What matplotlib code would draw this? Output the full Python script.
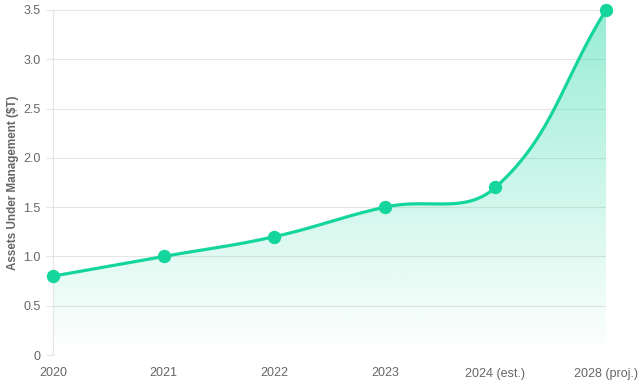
import numpy as np
import matplotlib
matplotlib.use("Agg")
import matplotlib.pyplot as plt
from matplotlib.colors import to_rgb

categories = ["2020", "2021", "2022", "2023", "2024 (est.)", "2028 (proj.)"]
values = [0.8, 1.0, 1.2, 1.5, 1.7, 3.5]
y_ticks = [0, 0.5, 1.0, 1.5, 2.0, 2.5, 3.0, 3.5]
y_tick_labels = ["0", "0.5", "1.0", "1.5", "2.0", "2.5", "3.0", "3.5"]
y_label = "Assets Under Management ($T)"

LINE = "#14d69c"
GRID = "#e5e5e5"
TEXT = "#666666"

plt.rcParams["font.family"] = ["Liberation Sans", "DejaVu Sans"]

fig = plt.figure(figsize=(6.4, 3.84), dpi=100)
ax = fig.add_axes([53/640, 1-355/384, (606-53)/640, (355-10)/384])
x = np.arange(len(categories))
ax.set_xlim(0, len(categories)-1)
ax.set_ylim(0, 3.5)

# Chart.js-style spline (tension 0.4) computed in pixel space
fig.canvas.draw()
pts = ax.transData.transform(np.column_stack([x, values]))
t = 0.4
n = len(pts)
cp_prev = []
cp_next = []
for i in range(n):
    cur = pts[i]
    prev = pts[i-1] if i > 0 else cur
    nxt = pts[i+1] if i < n-1 else cur
    d01 = np.hypot(*(cur-prev))
    d12 = np.hypot(*(nxt-cur))
    tot = d01 + d12
    s01 = d01/tot if tot else 0
    s12 = d12/tot if tot else 0
    fa = t*s01
    fb = t*s12
    cp_prev.append(cur - fa*(nxt-prev))
    cp_next.append(cur + fb*(nxt-prev))
bbox = ax.bbox
curve = []
for i in range(n-1):
    p0 = pts[i]; p3 = pts[i+1]
    p1 = cp_next[i].copy(); p2 = cp_prev[i+1].copy()
    for p in (p1, p2):
        p[0] = min(max(p[0], bbox.x0), bbox.x1)
        p[1] = min(max(p[1], bbox.y0), bbox.y1)
    s = np.linspace(0, 1, 60)[:, None]
    seg = ((1-s)**3)*p0 + 3*((1-s)**2)*s*p1 + 3*(1-s)*(s**2)*p2 + (s**3)*p3
    if i > 0:
        seg = seg[1:]
    curve.append(seg)
curve = np.vstack(curve)
curve_data = ax.transData.inverted().transform(curve)
cx, cy = curve_data[:, 0], curve_data[:, 1]

# gradient fill
r, g, b = to_rgb(LINE)
grad = np.zeros((256, 1, 4))
grad[:, 0, 0] = r; grad[:, 0, 1] = g; grad[:, 0, 2] = b
grad[:, 0, 3] = np.linspace(0.0, 0.44, 256)
im = ax.imshow(grad, aspect="auto", extent=[0, len(categories)-1, 0, 3.5],
               origin="lower", zorder=1)
clip = plt.Polygon(np.column_stack([np.r_[cx, cx[-1], cx[0]], np.r_[cy, 0, 0]]),
                   closed=True, transform=ax.transData, facecolor="none", edgecolor="none")
ax.add_patch(clip)
im.set_clip_path(clip)

ax.plot(cx, cy, color=LINE, lw=2.3, zorder=3, solid_capstyle="round")
ax.plot(x, values, "o", color=LINE, ms=8.6, zorder=4, clip_on=False)

ax.set_yticks(y_ticks)
ax.set_yticklabels(y_tick_labels)
ax.set_xticks(x)
ax.set_xticklabels(categories)
ax.grid(axis="y", color=GRID, lw=0.8)
ax.set_axisbelow(True)
for s in ["top", "right", "bottom"]:
    ax.spines[s].set_visible(False)
ax.spines["left"].set_color(GRID)
ax.spines["left"].set_linewidth(0.8)
ax.tick_params(axis="y", length=5, color=GRID, labelcolor=TEXT, labelsize=9, pad=4)
ax.tick_params(axis="x", length=0, labelcolor=TEXT, labelsize=9, pad=9)
ax.set_ylabel(y_label, color=TEXT, fontsize=8.4, fontweight="bold", labelpad=3)
ax.set_xlim(0, len(categories)-1)
ax.set_ylim(0, 3.5)

fig.savefig("out.png", dpi=100)
